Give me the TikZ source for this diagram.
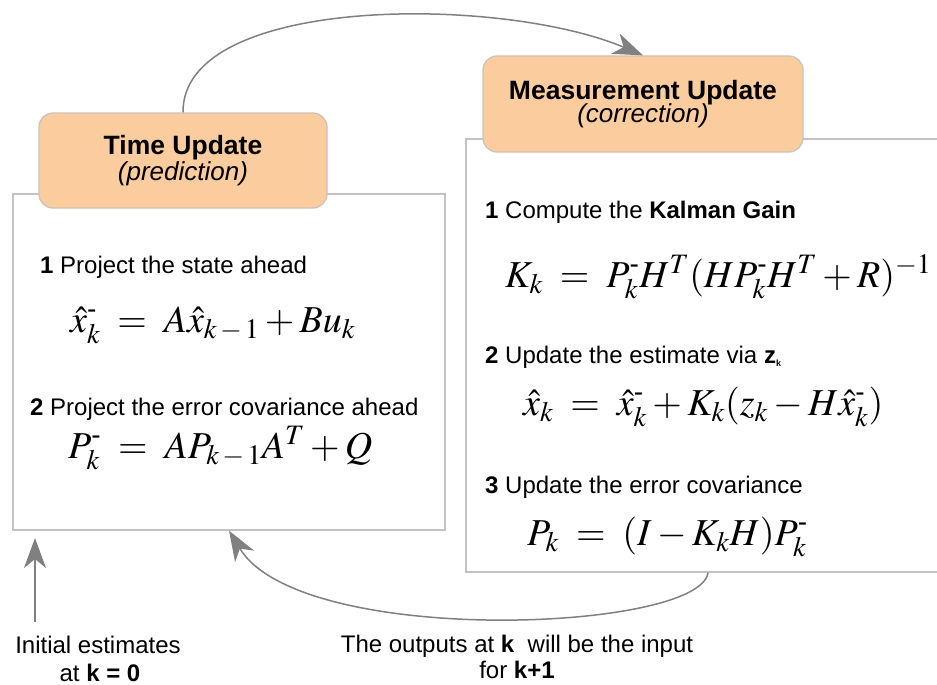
\documentclass[tikz,border=0pt]{standalone}
\usepackage{amsmath}
\usepackage{mathptmx}
\usepackage{fontspec}
\setmainfont{Liberation Sans}
\usetikzlibrary{arrows.meta}
\definecolor{peach}{RGB}{250,204,158}
\definecolor{hdrline}{RGB}{205,195,185}
\definecolor{panelgray}{RGB}{195,195,195}
\definecolor{arrgray}{RGB}{128,128,128}
\newcommand{\mn}{\text{-}}
\begin{document}
\begin{tikzpicture}[x=1pt,y=-1pt,
  panel/.style={draw=panelgray, line width=1.3pt, fill=white, rectangle, inner sep=0pt},
  hdr/.style={draw=hdrline, fill=peach, rounded corners=14pt, line width=1.3pt, align=center, inner sep=0pt},
  txt/.style={anchor=base west, inner sep=0pt, font=\fontsize{24}{28}\selectfont},
  lbl/.style={anchor=base, inner sep=0pt, font=\fontsize{24}{28}\selectfont},
  eq/.style={anchor=base west, inner sep=0pt, font=\fontsize{38}{42}\selectfont},
  arr/.style={draw=arrgray, line width=1.5pt, -{Stealth[length=30pt,width=22pt,inset=9pt]}}
]
\useasboundingbox (0,0) rectangle (937,685);

% panels
\node[panel, minimum width=432pt, minimum height=336pt] (lb) at (229,362) {};
\node[panel, minimum width=484pt, minimum height=433pt] (rb) at (708,355.5) {};

% headers
\node[hdr, minimum width=288pt, minimum height=95pt] (tu) at (183,160.5)
  {{\fontsize{26.5}{32}\selectfont\bfseries Time Update}\\[0pt]{\fontsize{26}{30}\selectfont\itshape (prediction)}};
\node[hdr, minimum width=320pt, minimum height=96pt] (mu) at (643,104)
  {{\fontsize{26.5}{32}\selectfont\bfseries Measurement Update}\\[-2pt]{\fontsize{26}{30}\selectfont\itshape (correction)}};

% left panel contents
\node[txt] (t1) at (40,273) {\textbf{1} Project the state ahead};
\node[eq] (e1) at (70,332) {$\hat{x}^{\mn}_{k} \;=\; A\hat{x}_{k\,-\,1} + Bu_{k}$};
\node[txt] (t2) at (30,415) {\textbf{2} Project the error covariance ahead};
\node[eq] (e2) at (68,458) {$P^{\mn}_{k} \;=\; AP_{k\,-\,1}A^{T} + Q$};

% right panel contents
\node[txt] (t3) at (485,218) {\textbf{1} Compute the \textbf{Kalman Gain}};
\node[eq] (e3) at (505,287) {$K_{k} \;=\; P^{\mn}_{k}H^{T}(HP^{\mn}_{k}H^{T} + R)^{-1}$};
\node[txt] (t4) at (485,363) {\textbf{2} Update the estimate via \textbf{z}\raisebox{-3pt}{\fontsize{9}{9}\selectfont\bfseries k}};
\node[eq] (e4) at (523,415) {$\hat{x}_{k} \;=\; \hat{x}^{\mn}_{k} + K_{k}(z_{k} - H\hat{x}^{\mn}_{k})$};
\node[txt] (t5) at (485,493) {\textbf{3} Update the error covariance};
\node[eq] (e5) at (527,545) {$P_{k} \;=\; (I - K_{k}H)P^{\mn}_{k}$};

% bottom labels
\node[lbl] (in1) at (98,653) {Initial estimates};
\node[lbl] (in2) at (100,681) {at \textbf{k = 0}};
\node[lbl] (ou1) at (517,652) {The outputs at \textbf{k}\ \ will be the input};
\node[lbl] (ou2) at (517,678) {for \textbf{k+1}};

% connectors
\coordinate (initfoot) at (35,622);
\coordinate (inittip) at (35,538);
\draw[arr] (initfoot) -- (inittip);
\draw[arr] (tu.north) .. controls (182,-5) and (500,-5) .. (mu.north);
\draw[arr] (rb.south) .. controls (700,632) and (300,648) .. (lb.south);
\end{tikzpicture}
\end{document}
